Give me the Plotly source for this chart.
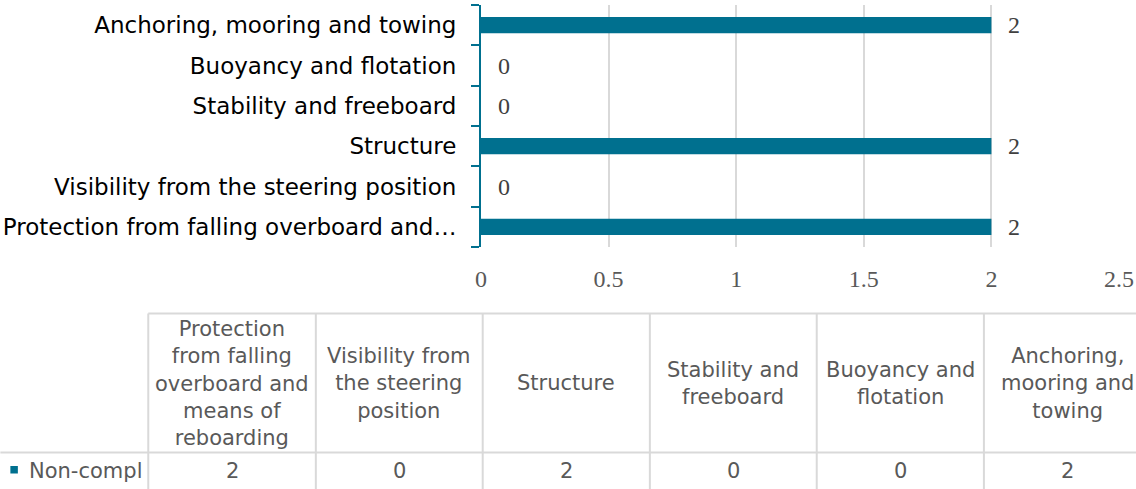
import plotly.graph_objects as go

# Non-compliance counts per requirement area (bottom to top on the bar axis)
categories = [
    "Protection from falling overboard and means of reboarding",
    "Visibility from the steering position",
    "Structure",
    "Stability and freeboard",
    "Buoyancy and flotation",
    "Anchoring, mooring and towing",
]
values = [2, 0, 2, 0, 0, 2]
series_name = "Non-compl"

# Column headings of the data table, wrapped as they appear in the cells
table_headers = [
    "Protection<br>from falling<br>overboard and<br>means of<br>reboarding",
    "Visibility from<br>the steering<br>position",
    "Structure",
    "Stability and<br>freeboard",
    "Buoyancy and<br>flotation",
    "Anchoring,<br>mooring and<br>towing",
]

x_ticks = [0, 0.5, 1, 1.5, 2, 2.5]

BAR = "#00708f"
GRID = "#d9d9d9"
W, H = 1136, 489
ML, MR, MT, MB = 481, 16.5, 5, 242


def short(label, limit=40, keep=37):
    return label if len(label) <= limit else label[:keep] + "…"


def px_x(x):
    return (x - ML) / (W - ML - MR)


def px_y(y):
    return (H - MB - y) / (H - MT - MB)


fig = go.Figure(
    go.Bar(
        x=values,
        y=categories,
        orientation="h",
        width=0.4,
        marker=dict(color=BAR, line=dict(width=0)),
        name=series_name,
        showlegend=False,
    )
)

annotations = []
# value labels next to each bar
for cat, v in zip(categories, values):
    annotations.append(dict(
        x=v, y=cat, xref="x", yref="y", text=str(v), showarrow=False,
        xanchor="left", xshift=15,
        font=dict(family="Liberation Serif", size=24, color="#404040"),
    ))

shapes = []
# data table geometry (pixels)
col_edges = [148, 315.7, 482.7, 650, 817, 984.3, 1151.5]
row_top, row_mid, row_bot = 313.5, 452.5, 489

shapes.append(dict(type="line", xref="paper", yref="paper",
                   x0=px_x(col_edges[0]), x1=px_x(W + 5),
                   y0=px_y(row_top), y1=px_y(row_top),
                   line=dict(color=GRID, width=2)))
shapes.append(dict(type="line", xref="paper", yref="paper",
                   x0=px_x(0), x1=px_x(W + 5),
                   y0=px_y(row_mid), y1=px_y(row_mid),
                   line=dict(color=GRID, width=2)))
for xe in col_edges[:-1]:
    shapes.append(dict(type="line", xref="paper", yref="paper",
                       x0=px_x(xe), x1=px_x(xe),
                       y0=px_y(row_top), y1=px_y(row_bot + 5),
                       line=dict(color=GRID, width=2)))

table_font = dict(family="DejaVu Sans", size=21, color="#595959")
for i, (hdr, v) in enumerate(zip(table_headers, values)):
    cx = (col_edges[i] + col_edges[i + 1]) / 2
    annotations.append(dict(
        x=px_x(cx), y=px_y((row_top + row_mid) / 2), xref="paper", yref="paper",
        text=hdr, showarrow=False, xanchor="center", yanchor="middle",
        align="center", font=table_font,
    ))
    annotations.append(dict(
        x=px_x(cx), y=px_y(471), xref="paper", yref="paper",
        text=str(v), showarrow=False, xanchor="center", yanchor="middle",
        font=table_font,
    ))

# legend key and series name in the first column
shapes.append(dict(type="rect", xref="paper", yref="paper",
                   x0=px_x(10), x1=px_x(17.5), y0=px_y(466), y1=px_y(473.5),
                   fillcolor=BAR, line=dict(width=0)))
annotations.append(dict(
    x=px_x(27), y=px_y(471), xref="paper", yref="paper", text=series_name,
    showarrow=False, xanchor="left", yanchor="middle", font=table_font,
))

fig.update_layout(
    width=W, height=H,
    margin=dict(l=ML, r=MR, t=MT, b=MB, pad=0, autoexpand=False),
    paper_bgcolor="white", plot_bgcolor="white",
    bargap=0.6,
    xaxis=dict(
        range=[0, 2.5], tickvals=x_ticks, ticktext=[f"{t:g}" for t in x_ticks],
        showgrid=True, gridcolor=GRID, gridwidth=2, zeroline=False,
        showline=False, ticks="", ticklabelstandoff=15, automargin=False,
        tickfont=dict(family="Liberation Serif", size=24, color="#595959"),
    ),
    yaxis=dict(
        categoryorder="array", categoryarray=categories,
        tickvals=categories, ticktext=[short(c) for c in categories],
        showline=True, linecolor=BAR, linewidth=2, automargin=False,
        ticks="outside", tickson="boundaries", ticklen=8, tickwidth=2,
        tickcolor=BAR, showgrid=False, zeroline=False, ticklabelstandoff=18,
        tickfont=dict(family="DejaVu Sans", size=23, color="#000000"),
    ),
    annotations=annotations,
    shapes=shapes,
)

fig.write_html("out.html")
